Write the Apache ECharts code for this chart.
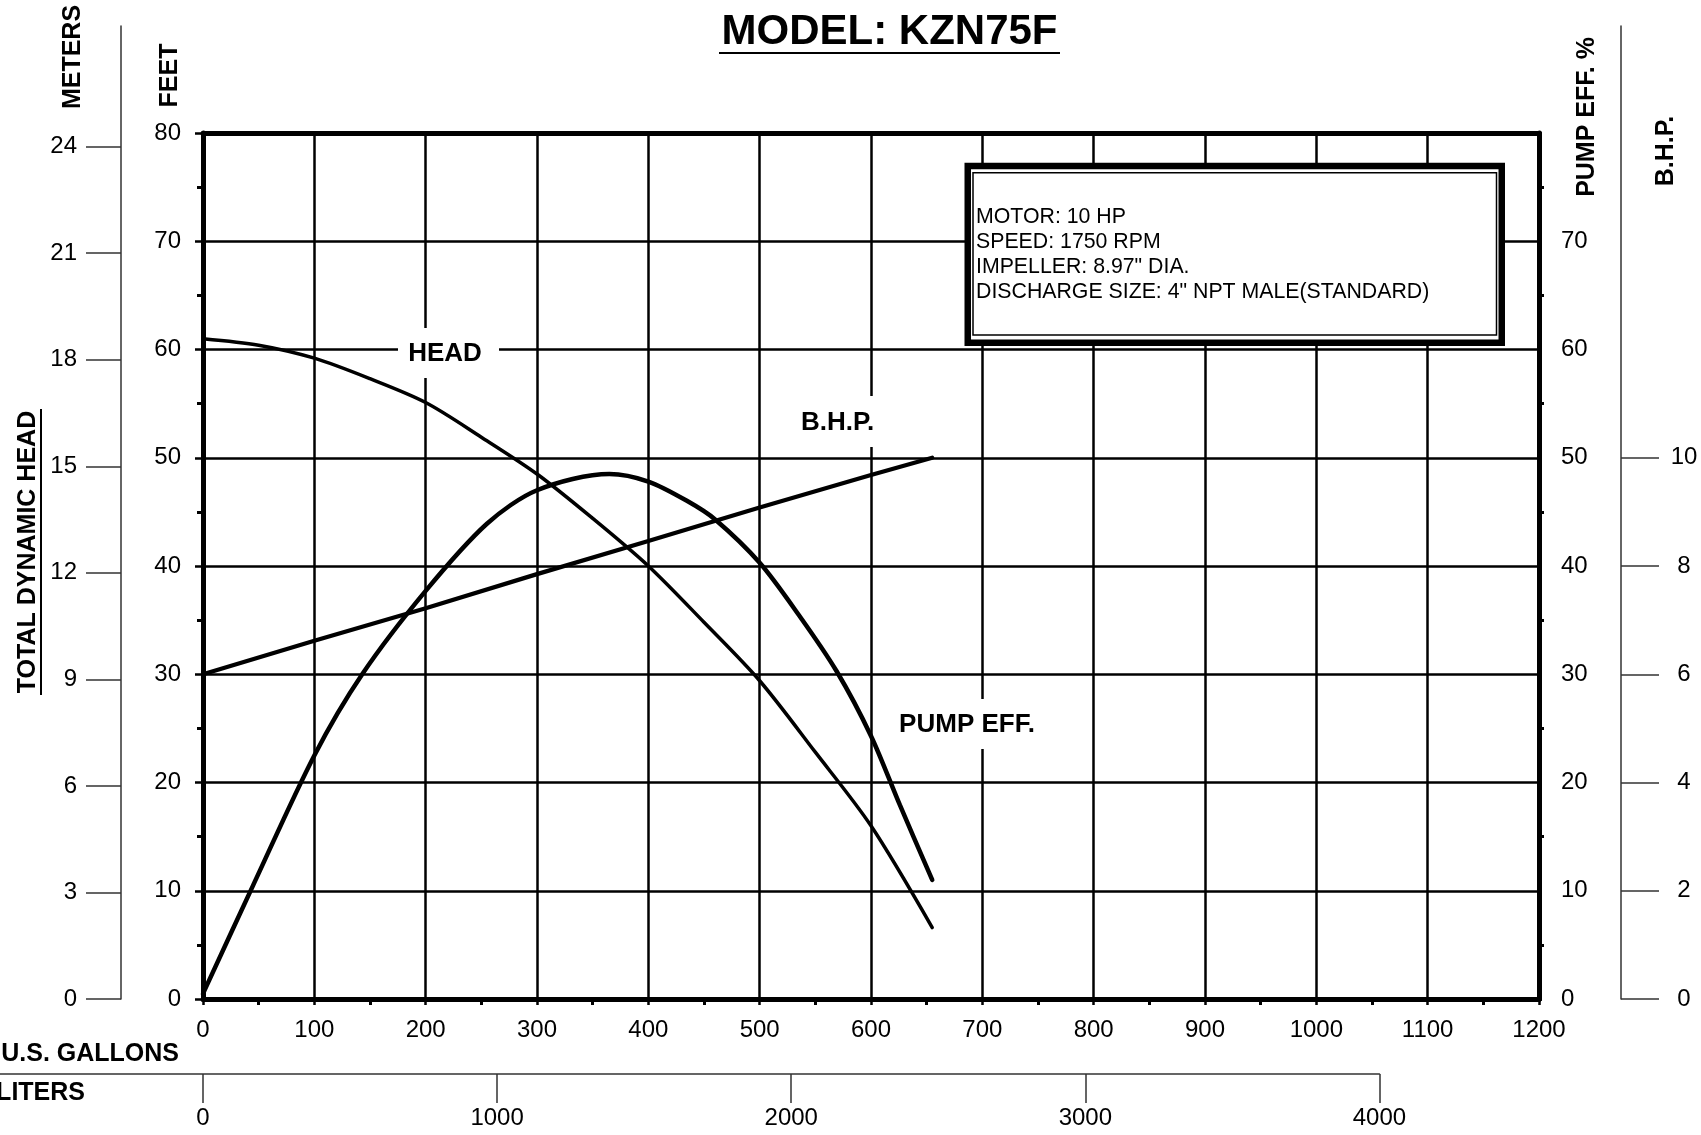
<!DOCTYPE html>
<html><head><meta charset="utf-8">
<script src="https://cdn.jsdelivr.net/npm/echarts@6/dist/echarts.min.js"></script>
<style>html,body{margin:0;padding:0;background:#fff}#c{width:1701px;height:1135px}</style>
</head><body><div id="c"></div>
<script>
// ---- data (flow in U.S. gallons per minute) ----
const headFlow = [0, 50, 100, 150, 200, 250, 300, 350, 400, 450, 500, 550, 600, 655];
const headFeet = [61.0, 60.4, 59.2, 57.3, 55.1, 51.9, 48.5, 44.4, 40.0, 34.8, 29.4, 22.8, 16.0, 6.6];
const effFlow = [0, 45, 100, 143, 200, 255, 300, 365, 400, 435, 460, 500, 535, 569, 600, 626, 655];
const effPct  = [0.5, 10.5, 22.5, 30, 37.7, 43.9, 47.0, 48.5, 47.8, 46.0, 44.3, 40.3, 35.5, 30.3, 24.3, 17.9, 11.0];
const bhpFlow = [0, 100, 200, 300, 400, 500, 600, 655];
const bhpVal  = [6.0, 6.62, 7.22, 7.85, 8.46, 9.08, 9.68, 10.0];
const literTicks = [0, 1000, 2000, 3000, 4000];
const meterTicks = [0, 3, 6, 9, 12, 15, 18, 21, 24];
const bhpTicks = [0, 2, 4, 6, 8, 10];
const infoLines = ['MOTOR: 10 HP', 'SPEED: 1750 RPM', 'IMPELLER: 8.97" DIA.', 'DISCHARGE SIZE: 4" NPT MALE(STANDARD)'];
const titleText = 'MODEL: KZN75F';

// ---- layout ----
const W = 1701, H = 1135;
const L = 203, R = 1539, T = 133, B = 999, T2 = 26;
const AXOFF = 82;          // offset of meters / B.H.P. axes
const LY = 1074;           // liters axis line
const GAL2L = 3.78541, FT2M = 3.28084;
const feetMax2 = (B - T2) * 80 / (B - T);
const metersMax = feetMax2 / FT2M;
const bhpMax = feetMax2 / 5;
const pxPerL = (R - L) / (1200 * GAL2L);
const litersMin = -L / pxPerL;
const litersEnd = L + 4000 * pxPerL;
const FF = "'Liberation Sans', Arial, Helvetica, sans-serif";
const zip = (a, b) => a.map((v, i) => [v, b[i]]);
const plain = v => String(v);

const chart = echarts.init(document.getElementById('c'), null, {renderer: 'canvas'});
const black = '#000', gray = '#333';
const boldTxt = (text, x, y, opt, size) => Object.assign({
  type: 'text', x: x, y: y, z: 10,
  style: {text: text, fill: black, font: 'bold ' + (size || 25) + 'px ' + FF, align: 'center', verticalAlign: 'middle'}
}, opt || {});
const hiddenAxis = (extra) => Object.assign({
  type: 'value', axisLine: {show: false}, axisTick: {show: false},
  axisLabel: {show: false}, splitLine: {show: false}
}, extra);

const option = {
  animation: false,
  backgroundColor: '#fff',
  textStyle: {fontFamily: FF},
  grid: [
    {left: L, right: W - R, top: T, bottom: H - B, outerBoundsMode: 'none'},
    {left: L, right: W - R, top: T2, bottom: H - B, outerBoundsMode: 'none'},
    {left: 0, right: W - litersEnd, top: LY - 40, bottom: H - LY, outerBoundsMode: 'none'}
  ],
  xAxis: [
    {gridIndex: 0, type: 'value', min: 0, max: 1200, interval: 100, position: 'bottom',
     axisLine: {onZero: false, lineStyle: {color: black, width: 5}},
     axisTick: {show: true, length: 6, lineStyle: {color: black, width: 2.5}},
     minorTick: {show: true, splitNumber: 2, length: 6, lineStyle: {color: black, width: 3}},
     axisLabel: {fontSize: 24, color: black, margin: 19, fontFamily: FF, formatter: plain},
     splitLine: {show: true, lineStyle: {color: black, width: 2.5}}},
    {gridIndex: 0, type: 'value', min: 0, max: 1200, interval: 100, position: 'top',
     axisLine: {onZero: false, lineStyle: {color: black, width: 5}}, axisTick: {show: false},
     axisLabel: {show: false}, splitLine: {show: false}},
    hiddenAxis({gridIndex: 1, min: 0, max: 1200}),
    {gridIndex: 2, type: 'value', min: litersMin, max: 4000, position: 'bottom',
     axisLine: {onZero: false, lineStyle: {color: gray, width: 1.5}},
     axisTick: {customValues: literTicks, length: 29, lineStyle: {color: gray, width: 1.5}},
     axisLabel: {customValues: literTicks, fontSize: 24, color: black, margin: 32, fontFamily: FF, formatter: plain},
     splitLine: {show: false}}
  ],
  yAxis: [
    {gridIndex: 0, type: 'value', position: 'left', min: 0, max: 80, interval: 10,
     axisLine: {onZero: false, lineStyle: {color: black, width: 5}},
     axisTick: {show: true, length: 8, lineStyle: {color: black, width: 2.5}},
     minorTick: {show: true, splitNumber: 2, length: 6, lineStyle: {color: black, width: 3}},
     axisLabel: {fontSize: 24, color: black, margin: 22, fontFamily: FF},
     splitLine: {show: true, lineStyle: {color: black, width: 2.5}}},
    {gridIndex: 0, type: 'value', position: 'right', min: 0, max: 80, interval: 10,
     axisLine: {onZero: false, lineStyle: {color: black, width: 5}},
     axisTick: {show: true, length: 3, lineStyle: {color: black, width: 2.5}},
     minorTick: {show: true, splitNumber: 2, length: 5, lineStyle: {color: black, width: 3}},
     axisLabel: {fontSize: 24, color: black, margin: 22, fontFamily: FF,
                 formatter: v => (v === 80 ? '' : String(v))},
     splitLine: {show: false}},
    {gridIndex: 1, type: 'value', position: 'left', offset: AXOFF, min: 0, max: metersMax,
     axisLine: {show: true, onZero: false, lineStyle: {color: gray, width: 1.5}},
     axisTick: {show: true, customValues: meterTicks, length: 35, lineStyle: {color: gray, width: 1.5}},
     axisLabel: {customValues: meterTicks, fontSize: 24, color: black, margin: 44, fontFamily: FF},
     splitLine: {show: false}},
    {gridIndex: 1, type: 'value', position: 'right', offset: AXOFF, min: 0, max: bhpMax,
     axisLine: {show: true, onZero: false, lineStyle: {color: gray, width: 1.5}},
     axisTick: {show: true, customValues: bhpTicks, length: 38, lineStyle: {color: gray, width: 1.5}},
     axisLabel: {customValues: bhpTicks, fontSize: 24, color: black, margin: 63, align: 'center', fontFamily: FF},
     splitLine: {show: false}},
    hiddenAxis({gridIndex: 2, min: 0, max: 1})
  ],
  series: [
    {name: 'HEAD', type: 'line', xAxisIndex: 0, yAxisIndex: 0, data: zip(headFlow, headFeet),
     smooth: 0.3, showSymbol: false, lineStyle: {color: black, width: 3.5, cap: 'round'}, z: 5},
    {name: 'PUMP EFF.', type: 'line', xAxisIndex: 0, yAxisIndex: 1, data: zip(effFlow, effPct),
     smooth: 0.3, showSymbol: false, lineStyle: {color: black, width: 4.5, cap: 'round'}, z: 5},
    {name: 'B.H.P.', type: 'line', xAxisIndex: 2, yAxisIndex: 3, data: zip(bhpFlow, bhpVal),
     smooth: false, showSymbol: false, lineStyle: {color: black, width: 4.2, cap: 'round'}, z: 5}
  ],
  graphic: [
    // title
    {type: 'text', x: 889.5, y: 32, z: 10,
     style: {text: titleText, fill: black, font: 'bold 42px ' + FF, align: 'center', verticalAlign: 'middle'}},
    {type: 'line', z: 10, shape: {x1: 719, y1: 53, x2: 1060, y2: 53}, style: {stroke: black, lineWidth: 2}},
    // axis titles
    boldTxt('METERS', 73, 57, {rotation: Math.PI / 2}),
    boldTxt('FEET', 170.5, 75.5, {rotation: Math.PI / 2}),
    boldTxt('TOTAL DYNAMIC HEAD', 28, 552, {rotation: Math.PI / 2}),
    {type: 'line', z: 10, shape: {x1: 41, y1: 409, x2: 41, y2: 695}, style: {stroke: black, lineWidth: 2}},
    boldTxt('PUMP EFF. %', 1587.5, 117, {rotation: Math.PI / 2}),
    boldTxt('B.H.P.', 1666, 151, {rotation: Math.PI / 2}),
    {type: 'text', x: 179, y: 1054, z: 10,
     style: {text: 'U.S. GALLONS', fill: black, font: 'bold 25px ' + FF, align: 'right', verticalAlign: 'middle'}},
    {type: 'text', x: 85, y: 1093, z: 10,
     style: {text: 'LITERS', fill: black, font: 'bold 25px ' + FF, align: 'right', verticalAlign: 'middle'}},
    // curve labels with white knock-outs
    {type: 'rect', z: 1, shape: {x: 398, y: 328, width: 101, height: 50}, style: {fill: '#fff'}},
    boldTxt('HEAD', 445, 354, null, 26),
    {type: 'rect', z: 1, shape: {x: 795, y: 396, width: 85, height: 51}, style: {fill: '#fff'}},
    boldTxt('B.H.P.', 837.5, 423, null, 26),
    {type: 'rect', z: 1, shape: {x: 890, y: 699, width: 155, height: 50}, style: {fill: '#fff'}},
    boldTxt('PUMP EFF.', 967, 724.5, null, 26),
    // info box
    {type: 'rect', z: 1, shape: {x: 967.75, y: 165.95, width: 534, height: 176.8},
     style: {fill: '#fff', stroke: black, lineWidth: 6.5}},
    {type: 'rect', z: 1, shape: {x: 973, y: 172.7, width: 523.5, height: 162.3},
     style: {fill: 'none', stroke: black, lineWidth: 1.5}},
    {type: 'text', x: 976, y: 254.5, z: 10,
     style: {text: infoLines.join('\n'), fill: black, font: '21.3px ' + FF, lineHeight: 25,
             align: 'left', verticalAlign: 'middle'}}
  ]
};
chart.setOption(option);
</script>
</body></html>
